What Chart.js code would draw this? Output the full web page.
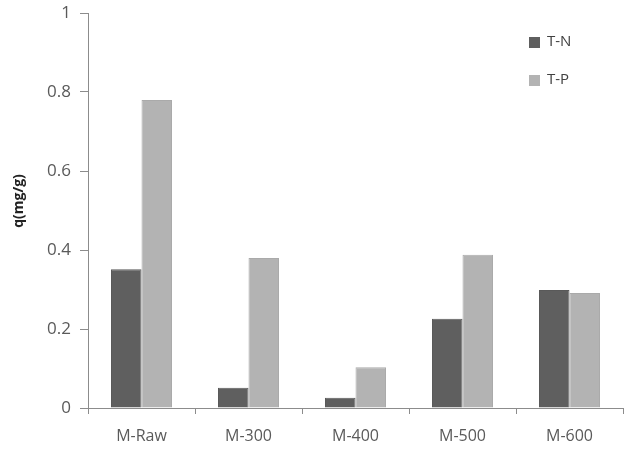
<!DOCTYPE html>
<html>
<head>
<meta charset="utf-8">
<script src="https://cdn.jsdelivr.net/npm/chart.js@4"></script>
<style>
  html, body { margin: 0; padding: 0; background: #fff; }
  #wrap { position: relative; width: 638px; height: 454px; }
</style>
</head>
<body>
<div id="wrap"><canvas id="chart" width="638" height="454"></canvas></div>
<script>
  const categories = ["M-Raw", "M-300", "M-400", "M-500", "M-600"];
  const seriesNames = ["T-N", "T-P"];
  const tnValues = [0.351, 0.051, 0.026, 0.226, 0.299];
  const tpValues = [0.78, 0.38, 0.103, 0.388, 0.291];
  const yTicks = [0, 0.2, 0.4, 0.6, 0.8, 1];
  const yTitle = "q(mg/g)";

  const FONT = "'Open Sans', 'Liberation Sans', sans-serif";
  const axisColor = "#8c8c8c";
  const textColor = "#5a5a5a";

  // legend in the top right corner, stacked vertically, plus the y title
  const extras = {
    id: "extras",
    afterDraw(chart) {
      const ctx = chart.ctx;
      ctx.save();
      ctx.font = "15px " + FONT;
      ctx.textBaseline = "middle";
      chart.data.datasets.forEach((ds, i) => {
        const y = 42 + i * 38;
        ctx.fillStyle = ds.backgroundColor;
        ctx.fillRect(529, y - 5, 11, 11);
        ctx.fillStyle = "#404040";
        ctx.fillText(ds.label, 547, y);
      });
      ctx.translate(19, 201);
      ctx.rotate(-Math.PI / 2);
      ctx.textAlign = "center";
      ctx.font = "bold 14px " + FONT;
      ctx.fillStyle = "#222";
      ctx.fillText(yTitle, 0, 0);
      ctx.restore();
    },
  };

  new Chart(document.getElementById("chart"), {
    type: "bar",
    data: {
      labels: categories,
      datasets: [
        {
          label: seriesNames[0],
          data: tnValues,
          backgroundColor: "#5f5f5f",
          borderColor: "#595959",
          borderWidth: 1,
          categoryPercentage: 0.57,
          barPercentage: 1,
        },
        {
          label: seriesNames[1],
          data: tpValues,
          backgroundColor: "#b3b3b3",
          borderColor: "#aaaaaa",
          borderWidth: 1,
          categoryPercentage: 0.57,
          barPercentage: 1,
        },
      ],
    },
    options: {
      responsive: false,
      animation: false,
      layout: { padding: { left: 0, right: 15, top: 0, bottom: 0 } },
      plugins: { legend: { display: false }, tooltip: { enabled: false } },
      scales: {
        x: {
          grid: {
            display: true,
            drawOnChartArea: false,
            drawTicks: true,
            tickLength: 6,
            color: axisColor,
            offset: true,
          },
          border: { color: axisColor, width: 1 },
          ticks: { color: textColor, font: { family: FONT, size: 16 }, padding: 13 },
          afterFit(scale) { scale.height = 46; },
        },
        y: {
          min: 0,
          max: 1,
          afterBuildTicks(scale) {
            scale.ticks = yTicks.map((v) => ({ value: v }));
          },
          grid: {
            display: true,
            drawOnChartArea: false,
            drawTicks: true,
            tickLength: 8,
            color: axisColor,
          },
          border: { color: axisColor, width: 1 },
          ticks: {
            color: textColor,
            font: { family: FONT, size: 17, lineHeight: 1 },
            padding: 9,
            callback: (v) => String(v),
          },
          afterFit(scale) {
            scale.width = 88;
            scale.paddingTop = 13;
          },
        },
      },
    },
    plugins: [extras],
  });
</script>
</body>
</html>
